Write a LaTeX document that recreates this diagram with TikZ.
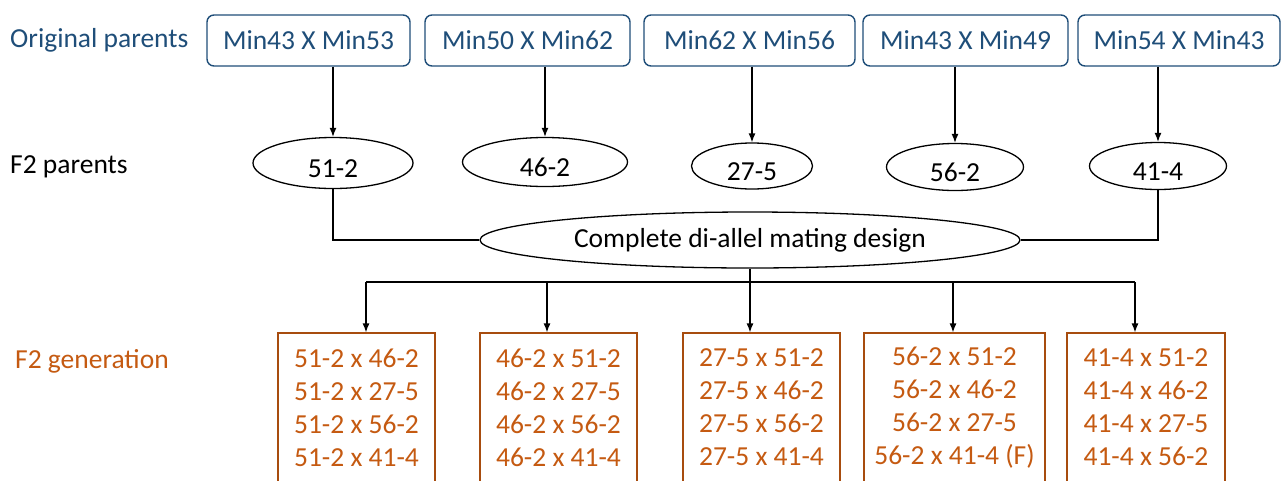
\documentclass[tikz,border=0pt]{standalone}
\usepackage{fontspec}
\setmainfont{Carlito}
\usetikzlibrary{shapes.geometric,arrows.meta}
\definecolor{navy}{RGB}{31,78,121}
\definecolor{rust}{RGB}{197,90,17}
\tikzset{
  txt/.style={font=\fontsize{27.5}{33}\selectfont, inner sep=0pt},
  parentbox/.style={txt, draw=navy, text=navy, line width=1.4pt, rounded corners=7pt, minimum height=51pt},
  seed/.style={txt, ellipse, draw=black, line width=1.3pt},
  lowtext/.style={text height=28pt, text depth=0pt},
  crossbox/.style={txt, draw=rust!85!black, text=rust, line width=1.2pt, align=center, minimum height=149pt},
  link/.style={draw=black, line width=1.3pt},
  arr/.style={link, -{Latex[length=9pt,width=7pt]}},
}
\begin{document}
\begin{tikzpicture}[x=1pt,y=-1pt]
\clip (0,0) rectangle (1282,480);
\fill[white] (0,0) rectangle (1282,480);

% row labels
\node[txt, anchor=west, text=navy] (lab1) at (10,40) {Original parents};
\node[txt, anchor=west] (lab2) at (10,167) {F2 parents};
\node[txt, anchor=west, text=rust] (lab3) at (15,361) {F2 generation};

% original parental crosses
\node[parentbox, minimum width=203pt] (b1) at (308.5,40.5) {Min43 X Min53};
\node[parentbox, minimum width=205pt] (b2) at (527.5,40.5) {Min50 X Min62};
\node[parentbox, minimum width=211pt] (b3) at (749.5,40.5) {Min62 X Min56};
\node[parentbox, minimum width=205pt] (b4) at (965.5,40.5) {Min43 X Min49};
\node[parentbox, minimum width=202pt] (b5) at (1179,40.5) {Min54 X Min43};

% F2 parents
\node[seed, lowtext, minimum width=160pt, minimum height=51pt] (e1) at (333,163) {51-2};
\node[seed, lowtext, minimum width=165pt, minimum height=49pt] (e2) at (545,162) {46-2};
\node[seed, lowtext, minimum width=121pt, minimum height=46pt] (e3) at (752,166) {27-5};
\node[seed, lowtext, minimum width=137pt, minimum height=47pt] (e4) at (955,167) {56-2};
\node[seed, lowtext, minimum width=137pt, minimum height=47pt] (e5) at (1158,166) {41-4};

\foreach \i in {1,...,5}
  \draw[arr] (e\i.north |- b\i.south) -- (e\i.north);

% mating design
\node[seed, minimum width=540pt, minimum height=56pt] (md) at (750,240) {Complete di-allel mating design};
\draw[link] (e1.south) |- (md.west);
\draw[link] (e5.south) |- (md.east);

% F2 generation crosses
\node[crossbox, minimum width=157pt] (g1) at (356.5,407.5) {51-2 x 46-2\\51-2 x 27-5\\51-2 x 56-2\\51-2 x 41-4};
\node[crossbox, minimum width=157pt] (g2) at (558.5,407.5) {46-2 x 51-2\\46-2 x 27-5\\46-2 x 56-2\\46-2 x 41-4};
\node[crossbox, minimum width=157pt] (g3) at (761.5,407.5) {27-5 x 51-2\\27-5 x 46-2\\27-5 x 56-2\\27-5 x 41-4};
\node[crossbox, minimum width=181pt] (g4) at (954.5,407.5) {56-2 x 51-2\\56-2 x 46-2\\56-2 x 27-5\\56-2 x 41-4 (F)};
\node[crossbox, minimum width=158pt] (g5) at (1146,407.5) {41-4 x 51-2\\41-4 x 46-2\\41-4 x 27-5\\41-4 x 56-2};

% distribution bus
\coordinate (d1) at (366,282);
\coordinate (d2) at (547,282);
\coordinate (d3) at (750,282);
\coordinate (d4) at (953,282);
\coordinate (d5) at (1135,282);
\draw[link] (md.south) -- (d3);
\draw[link] (d1) -- (d5);
\foreach \i in {1,...,5}
  \draw[arr] (d\i) -- (d\i |- g\i.north);
\end{tikzpicture}
\end{document}
